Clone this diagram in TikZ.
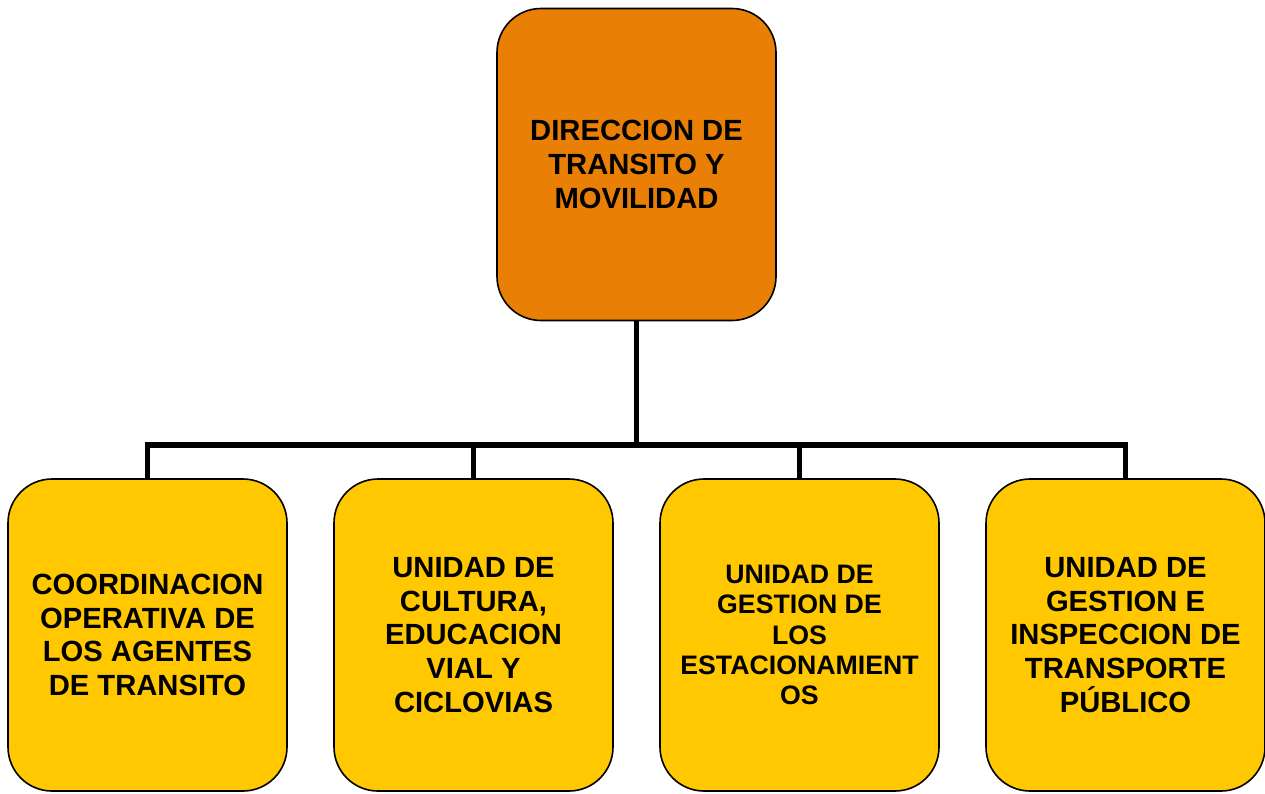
\documentclass[tikz,border=0pt]{standalone}
\usepackage{fontspec}
\setmainfont{Liberation Sans}
\definecolor{topfill}{RGB}{233,128,5}
\definecolor{unitfill}{RGB}{255,200,0}
\tikzset{
  orgbox/.style={draw=black, line width=1.6pt, rounded corners=44pt, rectangle,
    minimum width=279pt, minimum height=312pt, inner sep=0pt, align=center,
    font=\bfseries\fontsize{29.2}{33.8}\selectfont},
  topbox/.style={orgbox, fill=topfill},
  unitbox/.style={orgbox, fill=unitfill},
  conn/.style={draw=black, line width=5.5pt}
}
\begin{document}
\begin{tikzpicture}[x=1pt,y=-1pt]
\fill[white] (0,0) rectangle (1265,793);
\useasboundingbox (0,0) rectangle (1265,793);
\coordinate (bus) at (636.5,445);
\node[topbox] (top) at (636.5,164.5) {DIRECCION DE\\TRANSITO Y\\MOVILIDAD};
\node[unitbox] (u1) at (147.5,635) {COORDINACION\\OPERATIVA DE\\LOS AGENTES\\DE TRANSITO};
\node[unitbox] (u2) at (473.5,635) {UNIDAD DE\\CULTURA,\\EDUCACION\\VIAL Y\\CICLOVIAS};
\node[unitbox, font=\bfseries\fontsize{26.7}{30.3}\selectfont] (u3) at (799.5,635) {UNIDAD DE\\GESTION DE\\LOS\\ESTACIONAMIENT\\OS};
\node[unitbox] (u4) at (1125.5,635) {UNIDAD DE\\GESTION E\\INSPECCION DE\\TRANSPORTE\\PÚBLICO};
\coordinate (j1) at (u1.north |- bus);
\coordinate (j2) at (u2.north |- bus);
\coordinate (j3) at (u3.north |- bus);
\coordinate (j4) at (u4.north |- bus);
\draw[conn] (top.south) -- (bus);
\draw[conn, line cap=rect] (j1) -- (j4);
\draw[conn] (j1) -- (u1.north);
\draw[conn] (j2) -- (u2.north);
\draw[conn] (j3) -- (u3.north);
\draw[conn] (j4) -- (u4.north);
\end{tikzpicture}
\end{document}
